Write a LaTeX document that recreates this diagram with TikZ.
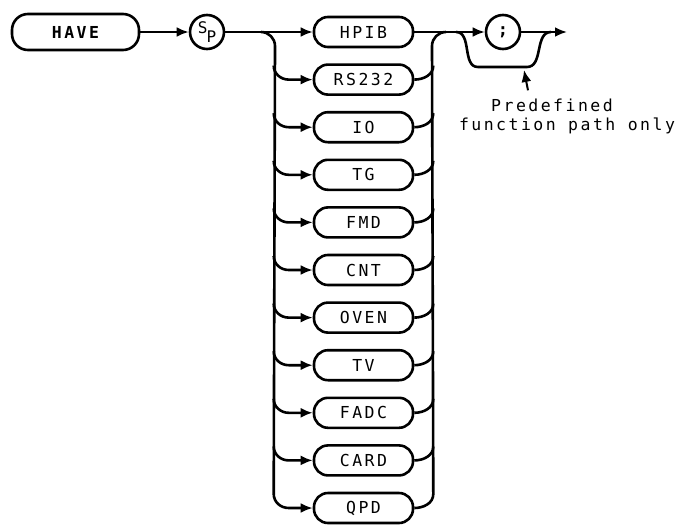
\documentclass[tikz,border=0pt]{standalone}
\usepackage{fontspec}
\newfontfamily\hpfont{DejaVu Sans Mono}[LetterSpace=15]
\newfontfamily\hpplain{DejaVu Sans Mono}
\usetikzlibrary{arrows.meta}
\tikzset{
  kwbox/.style={draw, rounded corners=16pt, minimum width=127pt, minimum height=36pt,
    inner sep=0pt, font=\hpfont\bfseries\fontsize{16.5}{19}\selectfont},
  optbox/.style={draw, rounded corners=14pt, minimum width=99pt, minimum height=30pt,
    inner sep=0pt, font=\hpfont\fontsize{16.5}{19}\selectfont},
  term/.style={draw, circle, minimum size=34pt, inner sep=0pt},
  notetext/.style={font=\hpfont\fontsize{16.5}{19}\selectfont, inner sep=0pt},
}
\begin{document}
\begin{tikzpicture}[x=1pt, y=1pt, >={Latex[length=12pt,width=10pt]}, line width=2.6pt]
    \useasboundingbox (0,0) rectangle (685,-525);
    % Befehl und Leerzeichen
    \node[kwbox] (have) at (75.5,-32) {HAVE};
    \node[term, font=\hpplain\fontsize{16}{18}\selectfont] (sp) at (207,-32)
        {\raisebox{4pt}{S}\hspace{-1pt}\raisebox{-5pt}{P}};
    \draw[->] (have) -- (sp);
    % Auswahl der Optionen
    \foreach \lab [count=\i from 0] in {HPIB,RS232,IO,TG,FMD,CNT,OVEN,TV,FADC,CARD,QPD} {
        \node[optbox] (\lab) at (363.5,{-32-47.6*\i}) {\lab};
    }
    \draw[->] (sp) -- (HPIB);
    \coordinate (splitL) at (261,-32);
    \coordinate (joinR) at (446,-32);
    \draw (splitL) to[out=0,in=90] (275,-46) -- ([shift={(-39pt,14pt)}]QPD.west);
    \draw ([shift={(19pt,14pt)}]QPD.east) -- (432,-46) to[out=90,in=180] (joinR);
    \foreach \lab in {RS232,IO,TG,FMD,CNT,OVEN,TV,FADC,CARD,QPD} {
        \draw[->] ([shift={(-39pt,14pt)}]\lab.west) to[out=-90,in=180]
            ([xshift=-24pt]\lab.west) -- (\lab.west);
        \draw (\lab.east) to[out=0,in=-90] ([shift={(19pt,14pt)}]\lab.east);
    }
    % Abschluss
    \node[term, font=\hpplain\bfseries\fontsize{17}{19}\selectfont] (semi) at (503,-32) {;};
    \coordinate (out) at (567,-32);
    \draw[->] (HPIB) -- (semi);
    \draw[->] (semi) -- (out);
    \coordinate (byin) at (456,-32);
    \coordinate (byL) at (478,-67);
    \coordinate (byR) at (527,-67);
    \coordinate (byout) at (551,-32);
    \draw (byin) to[out=0,in=180] (byL) -- (byR) to[out=0,in=180] (byout);
    % Hinweis
    \node[notetext] (note1) at (552,-105) {Predefined};
    \node[notetext] (note2) at (567,-126) {function path only};
    \coordinate (notetip) at (524,-70);
    \draw[->, line width=2pt] ([shift={(-24pt,7pt)}]note1.north) -- (notetip);
\end{tikzpicture}
\end{document}
